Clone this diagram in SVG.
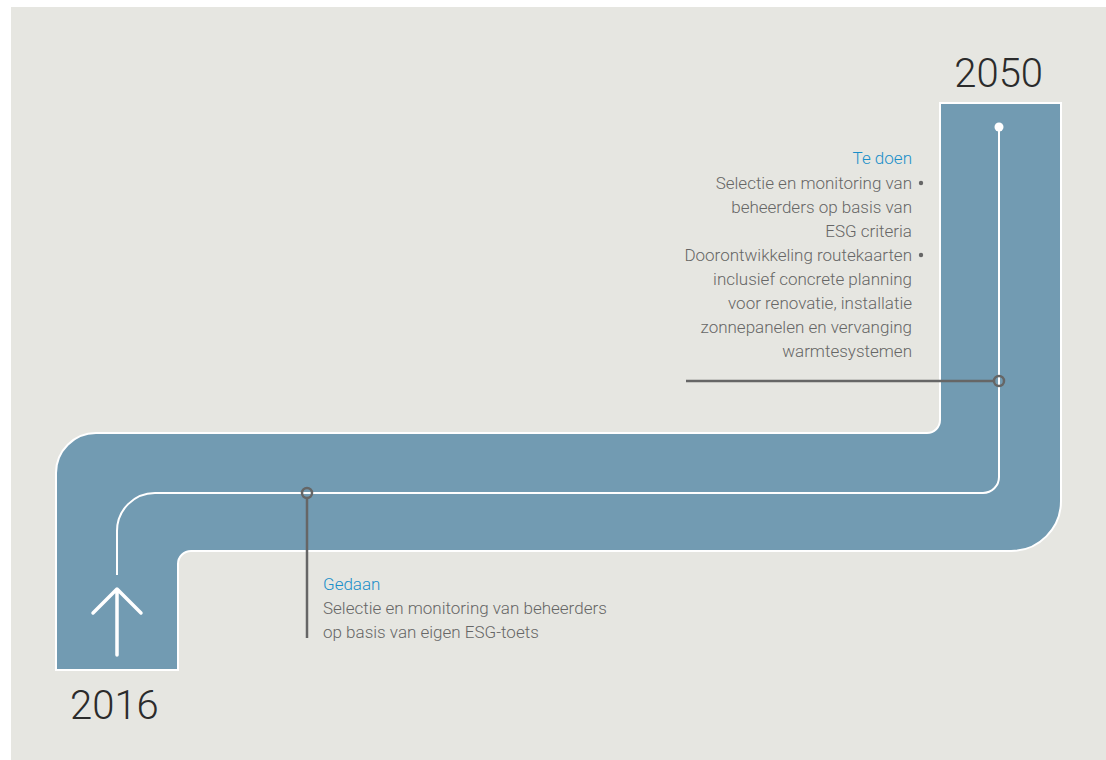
<svg xmlns="http://www.w3.org/2000/svg" width="1106" height="760" viewBox="0 0 1106 760">
  <style>
    .year { font-family: Roboto, "Liberation Sans", sans-serif; font-weight: 300; font-size: 40px; fill: #2b2b2b; }
    .head { font-family: Roboto, "Liberation Sans", sans-serif; font-weight: 300; font-size: 17px; fill: #1a8fc9; }
    .body { font-family: Roboto, "Liberation Sans", sans-serif; font-weight: 300; font-size: 17px; fill: #666666; }
    .pin { fill: none; stroke: #666666; stroke-width: 2.5; }
  </style>
  <rect x="0" y="0" width="1106" height="760" fill="#ffffff"/>
  <rect x="11" y="7" width="1095" height="753" fill="#e6e6e1"/>

  <!-- road band -->
  <g id="road">
    <path d="M 56 670 L 56 473 A 40 40 0 0 1 96 433 L 927 433 A 13 13 0 0 0 940 420 L 940 103 L 1061 103 L 1061 501 A 50 50 0 0 1 1011 551 L 191 551 A 13 13 0 0 0 178 564 L 178 670 Z" fill="#729bb2" stroke="#ffffff" stroke-width="2"/>
  </g>

  <g id="connectors">
    <!-- centre line of the road -->
    <path d="M 117 575 L 117 531 A 38 38 0 0 1 155 493 L 983 493 A 16 16 0 0 0 999 477 L 999 127" fill="none" stroke="#ffffff" stroke-width="2"/>
    <circle cx="999" cy="127" r="4.5" fill="#ffffff"/>
    <!-- start arrow -->
    <path d="M 117 655 L 117 590 M 93 613 L 117 589 L 141 613" fill="none" stroke="#ffffff" stroke-width="3.5" stroke-linecap="round" stroke-linejoin="round"/>
    <!-- pins -->
    <line class="pin" x1="307" y1="498" x2="307" y2="638"/>
    <circle class="pin" cx="307" cy="493" r="5"/>
    <line class="pin" x1="686" y1="381" x2="994" y2="381"/>
    <circle class="pin" cx="999" cy="381" r="5"/>
  </g>

  <g id="year-2050">
    <text class="year" x="1043" y="87" text-anchor="end">2050</text>
  </g>
  <g id="year-2016">
    <text class="year" x="70" y="719">2016</text>
  </g>

  <g id="te-doen">
    <text class="head" x="912" y="164" text-anchor="end">Te doen</text>
    <g class="body" text-anchor="end">
      <text x="912" y="189">Selectie en monitoring van</text>
      <text x="912" y="213">beheerders op basis van</text>
      <text x="912" y="237">ESG criteria</text>
      <text x="912" y="261">Doorontwikkeling routekaarten</text>
      <text x="912" y="285">inclusief concrete planning</text>
      <text x="912" y="309">voor renovatie, installatie</text>
      <text x="912" y="333">zonnepanelen en vervanging</text>
      <text x="912" y="357">warmtesystemen</text>
    </g>
    <circle cx="921" cy="183" r="2.2" fill="#666666"/>
    <circle cx="921" cy="255" r="2.2" fill="#666666"/>
  </g>

  <g id="gedaan">
    <text class="head" x="323" y="590">Gedaan</text>
    <text class="body" x="323" y="614">Selectie en monitoring van beheerders</text>
    <text class="body" x="323" y="638">op basis van eigen ESG-toets</text>
  </g>
</svg>
